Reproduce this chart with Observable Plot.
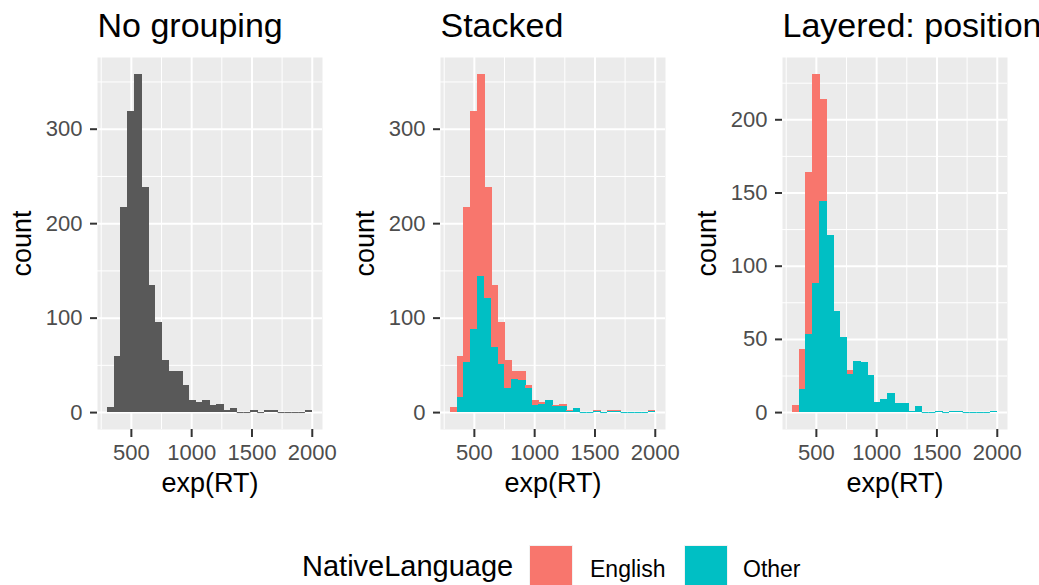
<!DOCTYPE html>
<html>
<head>
<meta charset="utf-8">
<script src="https://cdn.jsdelivr.net/npm/d3@7"></script>
<script src="https://cdn.jsdelivr.net/npm/@observablehq/plot@0.6"></script>
<style>
  html, body { margin: 0; padding: 0; background: white; }
  #root { position: relative; width: 1039px; height: 585px; overflow: hidden; font-family: 'Liberation Sans', Arial, sans-serif; }
  .panel { position: absolute; top: 0; }
  .lg { position: absolute; line-height: 1; white-space: nowrap; color: #000; }
  .sw { position: absolute; width: 44px; height: 44px; box-sizing: border-box; border: 1px solid #F2F2F2; }
</style>
</head>
<body>
<div id="root"></div>
<script>
// ---- data ----
const binEdges = [304, 360.5, 417.1, 473.6, 530.1, 586.7, 643.2, 699.7, 756.3, 812.8, 869.3, 925.8, 982.4, 1038.9, 1095.4, 1152, 1208.5, 1265, 1321.6, 1378.1, 1434.6, 1491.2, 1547.7, 1604.2, 1660.8, 1717.3, 1773.8, 1830.4, 1886.9, 1943.4, 2000];
const englishCounts = [5, 43, 164, 231, 214, 117, 66, 44, 29, 9, 10, 4, 6, 2, 0, 1, 3, 1, 0, 0, 0, 1, 0, 1, 1, 0, 0, 0, 0, 1];
const otherCounts   = [0, 16, 53, 88, 144, 121, 69, 51, 26, 35, 34, 25, 7, 9, 13, 6, 6, 1, 4, 0, 0, 1, 0, 1, 1, 0, 0, 0, 0, 1];
const languages = ["English", "Other"];
const langColors = ["#F8766D", "#00BFC4"];
const panelTitles = ["No grouping", "Stacked", "Layered: position identity"];
const xTicksMajor = [500, 1000, 1500, 2000];
const xTicksMinor = [250, 750, 1250, 1750];
const yTicksMajorCount = [0, 100, 200, 300];
const yTicksMinorCount = [50, 150, 250, 350];
const yTicksMajorLayer = [0, 50, 100, 150, 200];
const yTicksMinorLayer = [25, 75, 125, 175, 225];
const xLabel = "exp(RT)";
const yLabel = "count";
const legendTitle = "NativeLanguage";

// ---- tables ----
const bins = englishCounts.map((e, i) => ({lo: binEdges[i], hi: binEdges[i + 1], English: e, Other: otherCounts[i], total: e + otherCounts[i]}));
const long = bins.flatMap(b => languages.map(l => ({lo: b.lo, hi: b.hi, lang: l, count: b[l]})));

const xlo = binEdges[0], xhi = binEdges[binEdges.length - 1];
const xpad = (xhi - xlo) * 0.05;
const xDomain = [xlo - xpad, xhi + xpad];
const maxTotal = d3.max(bins, d => d.total);
const maxLayer = d3.max(long, d => d.count);
const yDomainTotal = [-maxTotal * 0.05, maxTotal * 1.05];
const yDomainLayer = [-maxLayer * 0.05, maxLayer * 1.05];

const FONT = "'Liberation Sans', Arial, sans-serif";
const fmt = d => String(d);
const barOpts = {insetLeft: -0.4, insetRight: -0.4, shapeRendering: "crispEdges"};

function panel(title, yDomain, yMajor, yMinor, dataMarks) {
  return Plot.plot({
    width: 342, height: 510,
    marginLeft: 97, marginRight: 20, marginTop: 57, marginBottom: 81,
    style: {background: "transparent", fontFamily: FONT, overflow: "visible"},
    x: {domain: xDomain, label: null},
    y: {domain: yDomain, label: null},
    color: {domain: languages, range: langColors},
    marks: [
      Plot.frame({fill: "#EBEBEB", stroke: null}),
      Plot.gridX(xTicksMinor, {stroke: "white", strokeOpacity: 1, strokeWidth: 1}),
      Plot.gridY(yMinor, {stroke: "white", strokeOpacity: 1, strokeWidth: 1}),
      Plot.gridX(xTicksMajor, {stroke: "white", strokeOpacity: 1, strokeWidth: 2}),
      Plot.gridY(yMajor, {stroke: "white", strokeOpacity: 1, strokeWidth: 2}),
      ...dataMarks,
      Plot.axisX(xTicksMajor, {tickSize: 8, tickPadding: 7, strokeWidth: 2, stroke: "#333333", fill: "#4D4D4D", fontSize: 22, tickFormat: fmt, label: null}),
      Plot.axisY(yMajor, {tickSize: 7, tickPadding: 8, strokeWidth: 2, stroke: "#333333", fill: "#4D4D4D", fontSize: 22, tickFormat: fmt, label: null}),
      Plot.text([title], {text: d => d, frameAnchor: "top-left", textAnchor: "start", lineAnchor: "bottom", dy: -21, fontSize: 34, fill: "black"}),
      Plot.text([yLabel], {text: d => d, frameAnchor: "left", textAnchor: "middle", lineAnchor: "middle", dx: -75, rotate: -90, fontSize: 27, fill: "black"}),
      Plot.text([xLabel], {text: d => d, frameAnchor: "bottom", textAnchor: "middle", lineAnchor: "bottom", dy: 62, fontSize: 27, fill: "black"})
    ]
  });
}

const p1 = panel(panelTitles[0], yDomainTotal, yTicksMajorCount, yTicksMinorCount, [
  Plot.ruleY(bins.filter(d => d.total === 0), {x1: "lo", x2: "hi", y: 0, stroke: "#595959", strokeWidth: 1}),
  Plot.rect(bins, {x1: "lo", x2: "hi", y1: 0, y2: "total", fill: "#595959", ...barOpts})
]);

const p2 = panel(panelTitles[1], yDomainTotal, yTicksMajorCount, yTicksMinorCount, [
  Plot.ruleY(bins.filter(d => d.total === 0), {x1: "lo", x2: "hi", y: 0, stroke: "#00BFC4", strokeWidth: 1}),
  Plot.rectY(long, {x1: "lo", x2: "hi", y: "count", fill: "lang", order: ["Other", "English"], ...barOpts})
]);

const p3 = panel(panelTitles[2], yDomainLayer, yTicksMajorLayer, yTicksMinorLayer, [
  Plot.ruleY(bins.filter(d => d.total === 0), {x1: "lo", x2: "hi", y: 0, stroke: "#00BFC4", strokeWidth: 1}),
  Plot.rect(long.filter(d => d.lang === "English"), {x1: "lo", x2: "hi", y1: 0, y2: "count", fill: "lang", ...barOpts}),
  Plot.rect(long.filter(d => d.lang === "Other"), {x1: "lo", x2: "hi", y1: 0, y2: "count", fill: "lang", ...barOpts})
]);

const root = document.getElementById("root");
[[p1, 0], [p2, 343], [p3, 685]].forEach(([p, left]) => {
  const wrap = document.createElement("div");
  wrap.className = "panel";
  wrap.style.left = left + "px";
  wrap.style.width = "342px";
  wrap.appendChild(p);
  root.appendChild(wrap);
});

// ---- legend ----
function addText(txt, left, baseline, size) {
  const d = document.createElement("div");
  d.className = "lg";
  d.textContent = txt;
  d.style.left = left + "px";
  d.style.fontSize = size + "px";
  d.style.top = (baseline - 0.8465 * size) + "px";
  root.appendChild(d);
}
function addSwatch(color, left, top) {
  const s = document.createElement("div");
  s.className = "sw";
  s.style.left = left + "px";
  s.style.top = top + "px";
  s.style.background = color;
  root.appendChild(s);
}
addText(legendTitle, 302, 577, 29);
addSwatch(langColors[0], 529, 545);
addText(languages[0], 590, 577, 23);
addSwatch(langColors[1], 684, 545);
addText(languages[1], 743, 577, 23);
</script>
</body>
</html>
